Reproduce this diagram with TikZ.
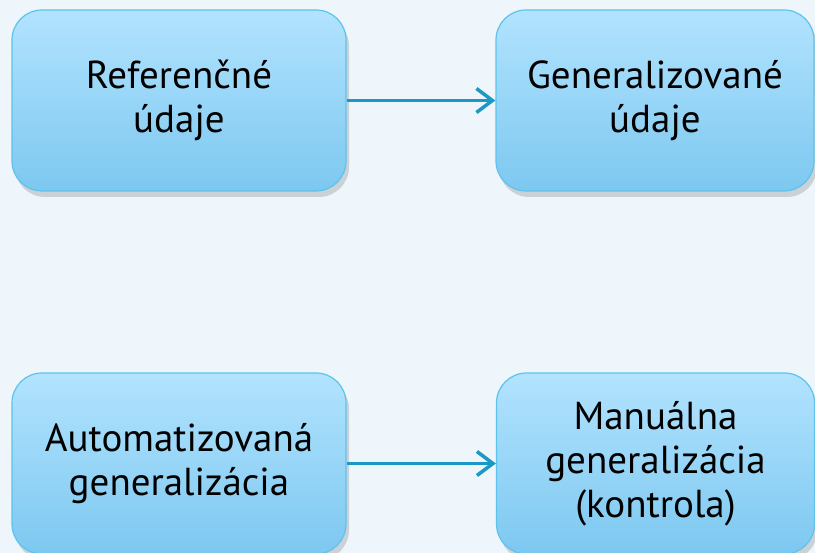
\documentclass[tikz,border=0pt]{standalone}
\usepackage{fontspec}
\setmainfont{PT Sans}
\usetikzlibrary{arrows.meta,positioning,shadows}
\definecolor{BoxTop}{HTML}{B2E3FE}
\definecolor{BoxBottom}{HTML}{7DC8F0}
\definecolor{BoxLine}{HTML}{5CC4EC}
\definecolor{ArrowBlue}{HTML}{1C98C6}
\definecolor{PageBlue}{HTML}{EEF5FB}

\tikzset{
  stage/.style={draw=BoxLine, line width=1.2pt, rounded corners=30pt,
    top color=BoxTop, bottom color=BoxBottom,
    drop shadow={shadow xshift=3pt, shadow yshift=-6pt, opacity=0.25, fill=black!60},
    minimum width=334pt, minimum height=181pt, align=center,
    font=\fontsize{39}{44}\selectfont},
  flow/.style={ArrowBlue, line width=3.5pt,
    -{Straight Barb[length=16pt,width=24pt]}}
}

\begin{document}
\begin{tikzpicture}[x=1pt,y=-1pt]
   \fill[PageBlue] (0,0) rectangle (815,553);
   \useasboundingbox (0,0) rectangle (815,553);
   \node[stage] (ref) at (179,100.5) {Referenčné\\údaje};
   \node[stage, minimum width=318pt] (gen) at (655,100.5) {Generalizované\\údaje};
   \node[stage] (auto) at (179,463.5) {Automatizovaná\\generalizácia};
   \node[stage, minimum width=318pt] (man) at (655.5,463.5) {Manuálna\\generalizácia\\(kontrola)};
   \draw[flow] (ref) -- (gen);
   \draw[flow] (auto) -- (man);
\end{tikzpicture}
\end{document}
